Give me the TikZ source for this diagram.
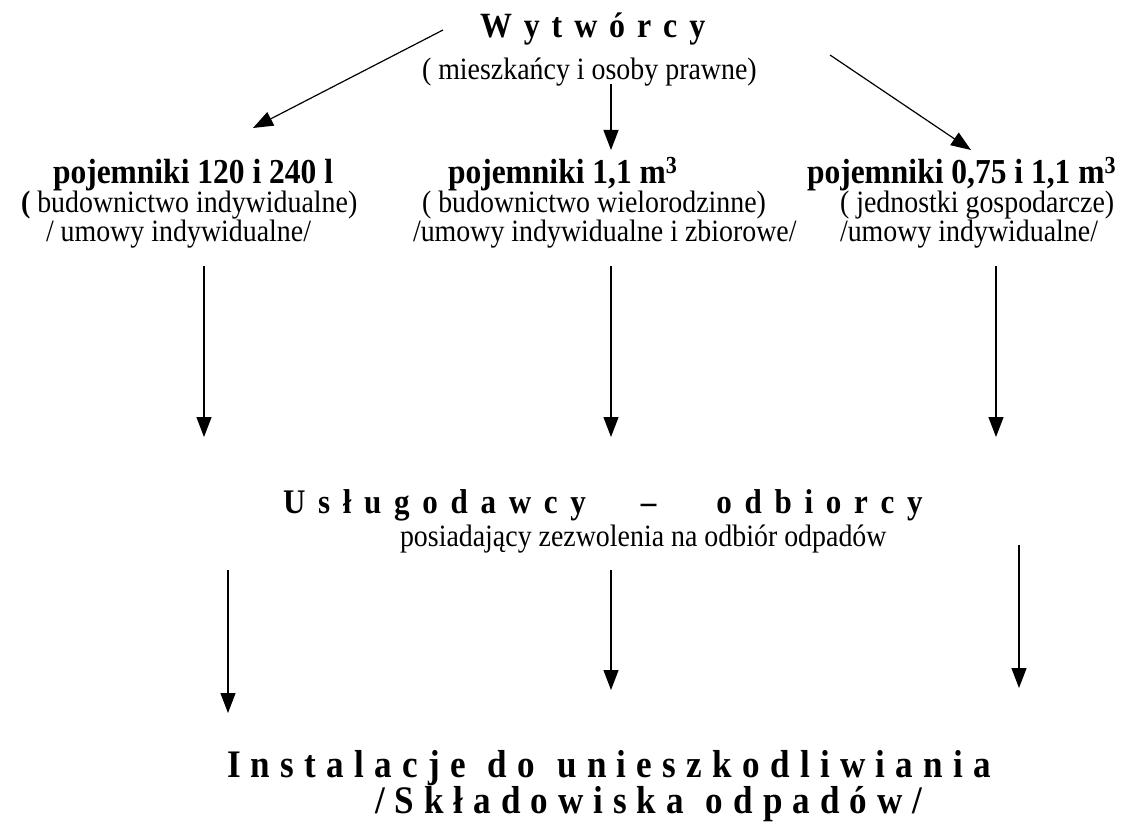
\documentclass[tikz,border=0pt]{standalone}
\usepackage{fontspec}
\setmainfont[FakeStretch=0.9]{Liberation Serif}
\usetikzlibrary{arrows.meta}
\makeatletter
\newcommand\trk[2]{\begingroup\let\trk@sep\@empty\@tfor\trk@c:=#2\do{\trk@sep\trk@c\def\trk@sep{\hspace{#1}}}\endgroup}
\makeatother
\begin{document}
\begin{tikzpicture}[x=1pt,y=-1pt,
  txt/.style={anchor=base west,inner sep=0pt,outer sep=0pt},
  reg/.style={txt,font=\fontsize{31}{33}\selectfont},
  bld/.style={txt,font=\fontsize{35}{37}\selectfont\bfseries},
  head/.style={txt,font=\fontsize{35.5}{37}\selectfont\bfseries},
  mid/.style={txt,font=\fontsize{34.5}{37}\selectfont\bfseries},
  big/.style={txt,font=\fontsize{39}{41}\selectfont\bfseries},
  arr/.style={line width=1.2pt,-{Triangle[length=20pt,width=15pt]}}]
\useasboundingbox (0,0) rectangle (1133,824);
% texts
\node[head] (w) at (480,38) {\trk{11.9pt}{Wytwórcy}};
\node[reg] (wsub) at (422,80) {( mieszkańcy i osoby prawne)};
\node[bld] (c1a) at (53,183) {pojemniki 120 i 240 l};
\node[reg] (c1b) at (21,212) {\textbf{(} budownictwo indywidualne)};
\node[reg] (c1c) at (46,241) {/ umowy indywidualne/};
\node[bld] (c2a) at (448,183) {pojemniki 1,1 m\textsuperscript{3}};
\node[reg] (c2b) at (422,212) {( budownictwo wielorodzinne)};
\node[reg] (c2c) at (413,241) {/umowy indywidualne i zbiorowe/};
\node[bld] (c3a) at (807,183) {pojemniki 0,75 i 1,1 m\textsuperscript{3}};
\node[reg] (c3b) at (840,212) {( jednostki gospodarcze)};
\node[reg] (c3c) at (840,241) {/umowy indywidualne/};
\node[mid] (u) at (283,513)
  {\trk{12.7pt}{Usługodawcy}\hspace{55pt}–\hspace{60pt}\trk{12.7pt}{odbiorcy}};
\node[reg] (usub) at (400,546) {posiadający zezwolenia na odbiór odpadów};
\node[big] (i1) at (227,777)
  {\trk{10.3pt}{Instalacje}\hspace{22pt}\trk{10.3pt}{do}\hspace{22pt}\trk{10.3pt}{unieszkodliwiania}};
\node[big] (i2) at (375,813)
  {\trk{10pt}{/Składowiska}\hspace{22pt}\trk{10pt}{odpadów/}};
% arrow end points
\coordinate (a1s) at (443,30);  \coordinate (a1e) at (253,128);
\coordinate (a2s) at (611,84);  \coordinate (a2e) at (611,150);
\coordinate (a3s) at (830,55);  \coordinate (a3e) at (971,150);
\coordinate (b1s) at (204,266); \coordinate (b1e) at (204,437);
\coordinate (b2s) at (611,266); \coordinate (b2e) at (611,437);
\coordinate (b3s) at (996,266); \coordinate (b3e) at (996,437);
\coordinate (d1s) at (228,570); \coordinate (d1e) at (228,713);
\coordinate (d2s) at (611,570); \coordinate (d2e) at (611,690);
\coordinate (d3s) at (1019,545);\coordinate (d3e) at (1019,688);
\foreach \p in {a1,a2,a3,b1,b2,b3,d1,d2,d3}{\draw[arr] (\p s) -- (\p e);}
\end{tikzpicture}
\end{document}
